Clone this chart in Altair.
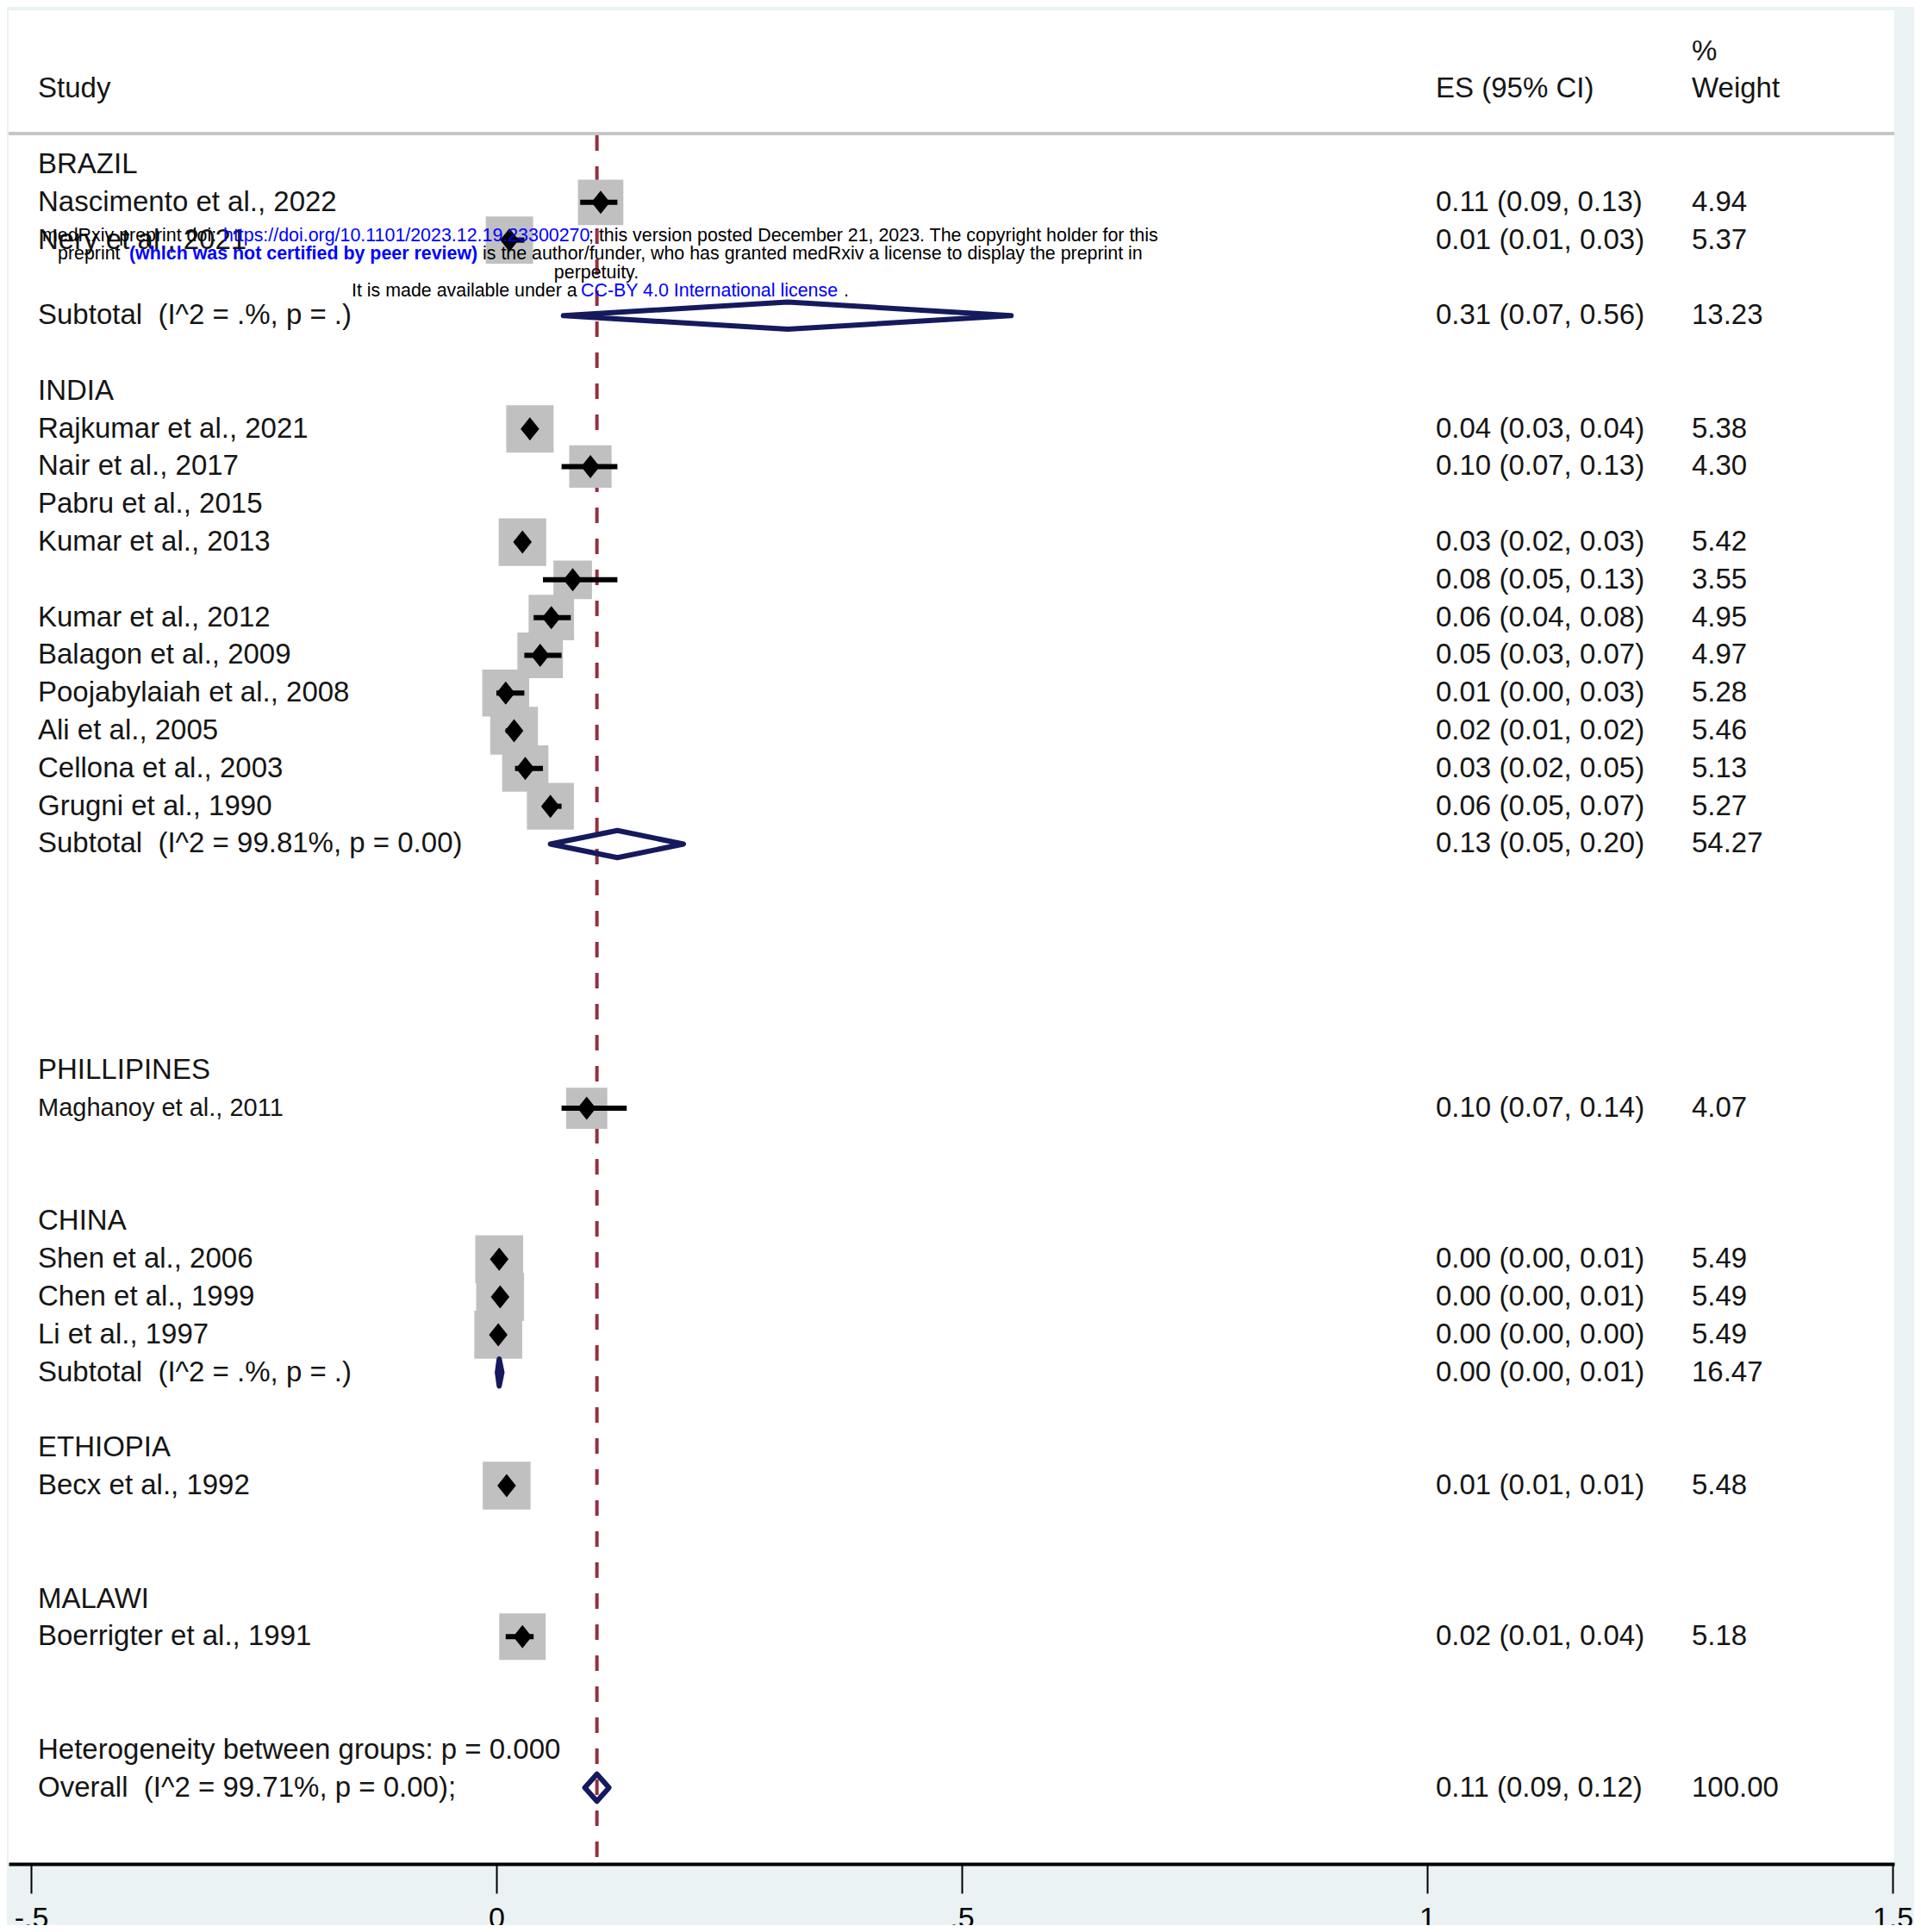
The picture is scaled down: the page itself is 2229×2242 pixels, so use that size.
import altair as alt
import pandas as pd

# ---------------- data ----------------
label_rows = [0, 1, 2, 4, 6, 7, 8, 9, 10, 12, 13, 14, 15, 16, 17, 18,
              24, 25, 28, 29, 30, 31, 32, 34, 35, 38, 39, 42, 43]
label_text = [
    "BRAZIL", "Nascimento et al., 2022", "Nery et al., 2021",
    "Subtotal\u00a0\u00a0(I^2 = .%, p = .)",
    "INDIA", "Rajkumar et al., 2021", "Nair et al., 2017", "Pabru et al., 2015",
    "Kumar et al., 2013", "Kumar et al., 2012", "Balagon et al., 2009",
    "Poojabylaiah et al., 2008", "Ali et al., 2005", "Cellona et al., 2003",
    "Grugni et al., 1990", "Subtotal\u00a0\u00a0(I^2 = 99.81%, p = 0.00)",
    "PHILLIPINES", "Maghanoy et al., 2011",
    "CHINA", "Shen et al., 2006", "Chen et al., 1999", "Li et al., 1997",
    "Subtotal\u00a0\u00a0(I^2 = .%, p = .)",
    "ETHIOPIA", "Becx et al., 1992",
    "MALAWI", "Boerrigter et al., 1991",
    "Heterogeneity between groups: p = 0.000",
    "Overall\u00a0\u00a0(I^2 = 99.71%, p = 0.00);",
]

study_rows = [1, 2, 7, 8, 10, 11, 12, 13, 14, 15, 16, 17, 25, 29, 30, 31, 35, 39]
study_es = [0.112, 0.014, 0.036, 0.101, 0.028, 0.082, 0.059, 0.047, 0.010,
            0.019, 0.031, 0.058, 0.097, 0.003, 0.004, 0.002, 0.011, 0.028]
study_lo = [0.09, 0.01, 0.03, 0.07, 0.02, 0.05, 0.04, 0.03, 0.00,
            0.01, 0.02, 0.05, 0.07, 0.00, 0.00, 0.00, 0.01, 0.01]
study_hi = [0.13, 0.03, 0.04, 0.13, 0.03, 0.13, 0.08, 0.07, 0.03,
            0.02, 0.05, 0.07, 0.14, 0.01, 0.01, 0.00, 0.01, 0.04]
study_w = [4.94, 5.37, 5.38, 4.30, 5.42, 3.55, 4.95, 4.97, 5.28,
           5.46, 5.13, 5.27, 4.07, 5.49, 5.49, 5.49, 5.48, 5.18]

sub_rows = [4, 18, 32, 43]
sub_es = [0.313, 0.130, 0.003, 0.108]
sub_lo = [0.072, 0.058, 0.001, 0.095]
sub_hi = [0.553, 0.201, 0.006, 0.121]

es_rows = [1, 2, 4, 7, 8, 10, 11, 12, 13, 14, 15, 16, 17, 18,
           25, 29, 30, 31, 32, 35, 39, 43]
es_text = ["0.11 (0.09, 0.13)", "0.01 (0.01, 0.03)", "0.31 (0.07, 0.56)",
           "0.04 (0.03, 0.04)", "0.10 (0.07, 0.13)", "0.03 (0.02, 0.03)",
           "0.08 (0.05, 0.13)", "0.06 (0.04, 0.08)", "0.05 (0.03, 0.07)",
           "0.01 (0.00, 0.03)", "0.02 (0.01, 0.02)", "0.03 (0.02, 0.05)",
           "0.06 (0.05, 0.07)", "0.13 (0.05, 0.20)", "0.10 (0.07, 0.14)",
           "0.00 (0.00, 0.01)", "0.00 (0.00, 0.01)", "0.00 (0.00, 0.00)",
           "0.00 (0.00, 0.01)", "0.01 (0.01, 0.01)", "0.02 (0.01, 0.04)",
           "0.11 (0.09, 0.12)"]
wt_text = ["4.94", "5.37", "13.23", "5.38", "4.30", "5.42", "3.55", "4.95",
           "4.97", "5.28", "5.46", "5.13", "5.27", "54.27", "4.07", "5.49",
           "5.49", "5.49", "16.47", "5.48", "5.18", "100.00"]

overall_es = [0.108]

tick_values = [-0.5, 0, 0.5, 1, 1.5]
tick_labels = ["-.5", "0", ".5", "1", "1.5"]

# ---------------- style / layout ----------------
FONT = "Liberation Sans, Arial, Helvetica, sans-serif"
W, H = 2188, 2151
NAVY = "#151a5e"
TXT = "#151515"
HALF_H = 0.36  # diamond half-height in row units

studies = pd.DataFrame({"row": study_rows, "es": study_es, "lo": study_lo,
                        "hi": study_hi, "w": study_w})
labels = pd.DataFrame({"row": label_rows, "t": label_text})
labels["narrow"] = labels["t"].str.startswith("Maghanoy")
es_df = pd.DataFrame({"row": es_rows, "es": es_text, "wt": wt_text})

poly = []
for i, (r, e, lo, hi) in enumerate(zip(sub_rows, sub_es, sub_lo, sub_hi)):
    pts = [(lo, r), (e, r - HALF_H), (hi, r), (e, r + HALF_H), (lo, r)]
    for k, (px, py) in enumerate(pts):
        poly.append({"g": i, "o": k, "x": px, "row": py})
poly = pd.DataFrame(poly)

header = pd.DataFrame({"row": [-3, -2, -2, -2],
                       "t": ["%", "Study", "ES (95% CI)", "Weight"],
                       "col": ["w", "s", "e", "w"]})

label_expr = " : ".join(
    f"datum.value == {v} ? '{l}'" for v, l in zip(tick_values, tick_labels)
) + " : ''"

xscale = alt.Scale(domain=[-0.52407, 1.50185], nice=False, zero=False)
yscale = alt.Scale(domain=[-4.087, 45.02], nice=False, zero=False, reverse=True)
xaxis = alt.Axis(values=tick_values, labelExpr=label_expr, title=None, grid=False,
                 domainColor="black", domainWidth=4, tickColor="black",
                 tickWidth=2, tickSize=34, labelFontSize=34, labelFont=FONT,
                 labelColor="black", labelPadding=12, labelFlush=False,
                 labelOverlap=False)


def X(field):
    return alt.X(f"{field}:Q", scale=xscale, axis=xaxis)


def Y(field="row"):
    return alt.Y(f"{field}:Q", scale=yscale, axis=None)


one = pd.DataFrame({"a": [0]})

header_rule = alt.Chart(one).mark_rule(color="#c6c6c6", strokeWidth=4).encode(
    x=alt.value(0), x2=alt.value(W), y=alt.value(143))

dash = alt.Chart(pd.DataFrame({"es": overall_es})).mark_rule(
    color="#93303f", strokeWidth=4, strokeDash=[18, 18]).encode(
    x=X("es"), y=alt.value(145), y2=alt.value(H))

boxes = alt.Chart(studies).mark_square(color="#c0c0c0", opacity=1, filled=True).encode(
    x=X("es"), y=Y(),
    size=alt.Size("w:Q", scale=alt.Scale(domain=[0, 10], range=[0, 5620]), legend=None))

ci = alt.Chart(studies).mark_rule(color="black", strokeWidth=6).encode(
    x=X("lo"), x2="hi:Q", y=Y())

pts = alt.Chart(studies).mark_point(
    shape="M0,-1L0.8,0L0,1L-0.8,0Z", filled=True, size=729, color="black",
    opacity=1).encode(x=X("es"), y=Y())

diam = alt.Chart(poly).mark_line(color=NAVY, strokeWidth=6, strokeCap="round",
                                 strokeJoin="round").encode(
    x=X("x"), y=Y(), detail="g:N", order="o:Q")

lab_reg = alt.Chart(labels).transform_filter("!datum.narrow").mark_text(
    align="left", baseline="middle", font=FONT, fontSize=33, color=TXT).encode(
    x=alt.value(34), y=Y(), text="t:N")
lab_nar = alt.Chart(labels).transform_filter("datum.narrow").mark_text(
    align="left", baseline="middle", font=FONT, fontSize=29, color=TXT).encode(
    x=alt.value(34), y=Y(), text="t:N")

es_txt = alt.Chart(es_df).mark_text(
    align="left", baseline="middle", font=FONT, fontSize=33, color=TXT).encode(
    x=alt.value(1656), y=Y(), text="es:N")
wt_txt = alt.Chart(es_df).mark_text(
    align="left", baseline="middle", font=FONT, fontSize=33, color=TXT).encode(
    x=alt.value(1953), y=Y(), text="wt:N")

hdr_layers = []
for col, xpos in [("s", 34), ("e", 1656), ("w", 1953)]:
    hdr_layers.append(
        alt.Chart(header).transform_filter(f"datum.col == '{col}'").mark_text(
            align="left", baseline="middle", font=FONT, fontSize=33, color=TXT
        ).encode(x=alt.value(xpos), y=Y(), text="t:N"))

# medRxiv watermark overlay (annotation)
BLUE = "#0000ff"
wm = [
    ("medRxiv preprint doi: ", 39, 262, "black", "normal", "left"),
    ("https://doi.org/10.1101/2023.12.19.23300270", 249, 262, BLUE, "normal", "left"),
    ("; this version posted December 21, 2023. The copyright holder for this",
     673, 262, "black", "normal", "left"),
    ("preprint", 57, 283, "black", "normal", "left"),
    ("(which was not certified by peer review)", 140, 283, BLUE, "bold", "left"),
    ("is the author/funder, who has granted medRxiv a license to display the preprint in",
     550, 283, "black", "normal", "left"),
    ("perpetuity.", 682, 305, "black", "normal", "center"),
    ("It is made available under a", 398, 326, "black", "normal", "left"),
    ("CC-BY 4.0 International license", 664, 326, BLUE, "normal", "left"),
    (".", 969, 326, "black", "normal", "left"),
]
wm_layers = []
for t, px, py, c, fw, al in wm:
    wm_layers.append(
        alt.Chart(one).mark_text(text=t, align=al, baseline="middle", font=FONT,
                                 fontSize=21.4, color=c, fontWeight=fw).encode(
            x=alt.value(px), y=alt.value(py)))

chart = alt.layer(
    header_rule, dash, boxes, ci, pts, diam, lab_reg, lab_nar, es_txt, wt_txt,
    *hdr_layers, *wm_layers
).properties(
    width=W, height=H,
    autosize=alt.AutoSizeParams(type="none"),
    padding={"left": 2, "top": 4, "right": 23, "bottom": 71},
    background="#eaf2f3",
).configure_view(stroke=None, fill="white")

chart.save("out.html", embed_options={"renderer": "svg", "actions": False})
